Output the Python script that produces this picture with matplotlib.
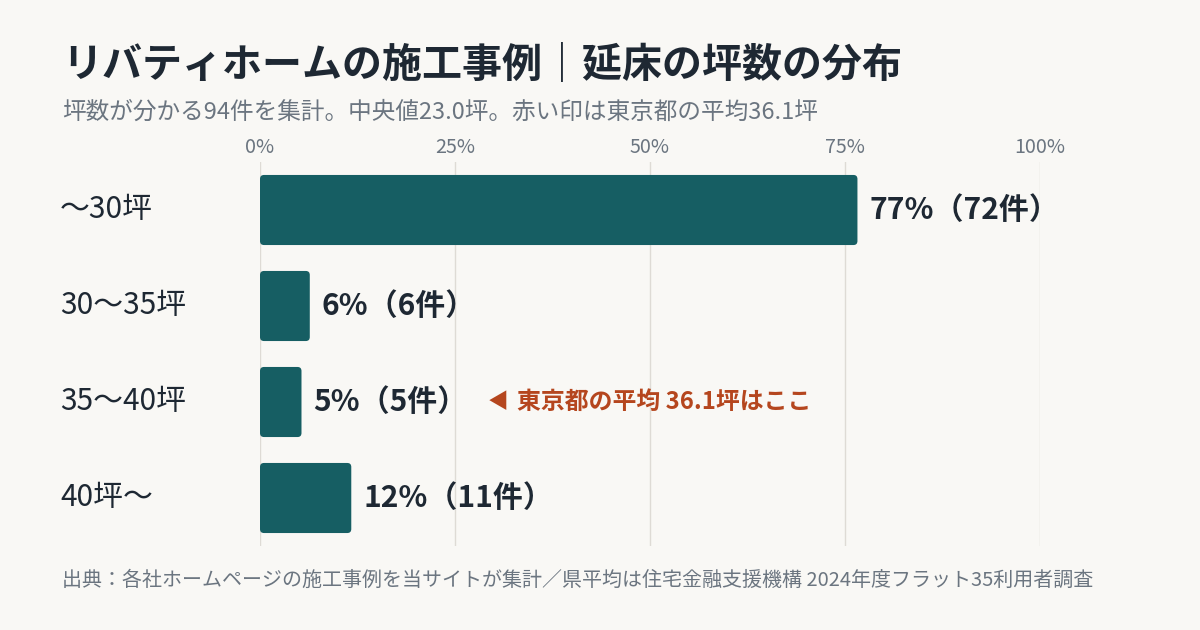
import numpy as np
import matplotlib
matplotlib.use("Agg")
import matplotlib.pyplot as plt
from matplotlib.patches import FancyBboxPatch

plt.rcParams['font.family'] = ['Noto Sans CJK JP', 'DejaVu Sans']

# data
categories = ["〜30坪", "30〜35坪", "35〜40坪", "40坪〜"]
counts = np.array([72, 6, 5, 11])
total = 94
pct = counts / total * 100
pct_labels = ["77%", "6%", "5%", "12%"]
ticks = [0, 25, 50, 75, 100]
tick_labels = ["0%", "25%", "50%", "75%", "100%"]

title = "リバティホームの施工事例｜延床の坪数の分布"
subtitle = "坪数が分かる94件を集計。中央値23.0坪。赤い印は東京都の平均36.1坪"
note = "東京都の平均 36.1坪はここ"
source = "出典：各社ホームページの施工事例を当サイトが集計／県平均は住宅金融支援機構 2024年度フラット35利用者調査"

bg = "#F9F8F5"
bar_color = "#165E63"
dark = "#1E2833"
gray = "#6B7580"
accent = "#B5461E"

W, H = 1200, 630
fig = plt.figure(figsize=(12, 6.3), dpi=100, facecolor=bg)
ax = fig.add_axes([260 / W, 1 - 546 / H, 780 / W, 384 / H])
ax.set_facecolor(bg)
ax.set_xlim(0, 100)
ax.set_ylim(3.5, -0.5)

# grid
for t in ticks:
    ax.axvline(t, color="#DEDBD5", lw=1, zorder=0)

# rounded bars
bar_h = 0.73
px_x = 780 / 100
px_y = 96
r = 4 / px_x
for i, v in enumerate(pct):
    p = FancyBboxPatch((0, i - bar_h / 2), v, bar_h,
                       boxstyle=f"round,pad=0,rounding_size={r}",
                       mutation_aspect=px_x / px_y,
                       fc=bar_color, ec="none", zorder=2)
    ax.add_patch(p)
    ax.text(v + 12 / px_x, i, f"{pct_labels[i]}（{counts[i]}件）",
            va="center", ha="left", fontsize=21.6, fontweight="bold",
            color=dark, zorder=3)

# annotation next to 35〜40坪
ax.text(488 / px_x - 260 / px_x, 2, "◀", va="center", ha="left",
        fontsize=15, color=accent, zorder=3)
ax.text(517 / px_x - 260 / px_x, 2, note, va="center", ha="left",
        fontsize=17.2, fontweight="bold", color=accent, zorder=3)

ax.set_xticks(ticks)
ax.set_xticklabels(tick_labels, fontsize=14.2, color=gray)
ax.xaxis.tick_top()
ax.tick_params(axis="x", length=0, pad=3)
ax.set_yticks([])
for s in ax.spines.values():
    s.set_visible(False)

# category labels
for i, c in enumerate(categories):
    ax.text(-200 / px_x, i, c, va="center", ha="left", fontsize=21.5,
            color=dark, clip_on=False)

fig.text(62 / W, 1 - 65 / H, title, fontsize=28.8, fontweight="bold",
         color=dark, va="center", ha="left")
fig.text(62 / W, 1 - 112 / H, subtitle, fontsize=17.0, color=gray,
         va="center", ha="left")
fig.text(62 / W, 1 - 580 / H, source, fontsize=14.4, color=gray,
         va="center", ha="left")

fig.savefig("out.png", dpi=100, facecolor=bg)
